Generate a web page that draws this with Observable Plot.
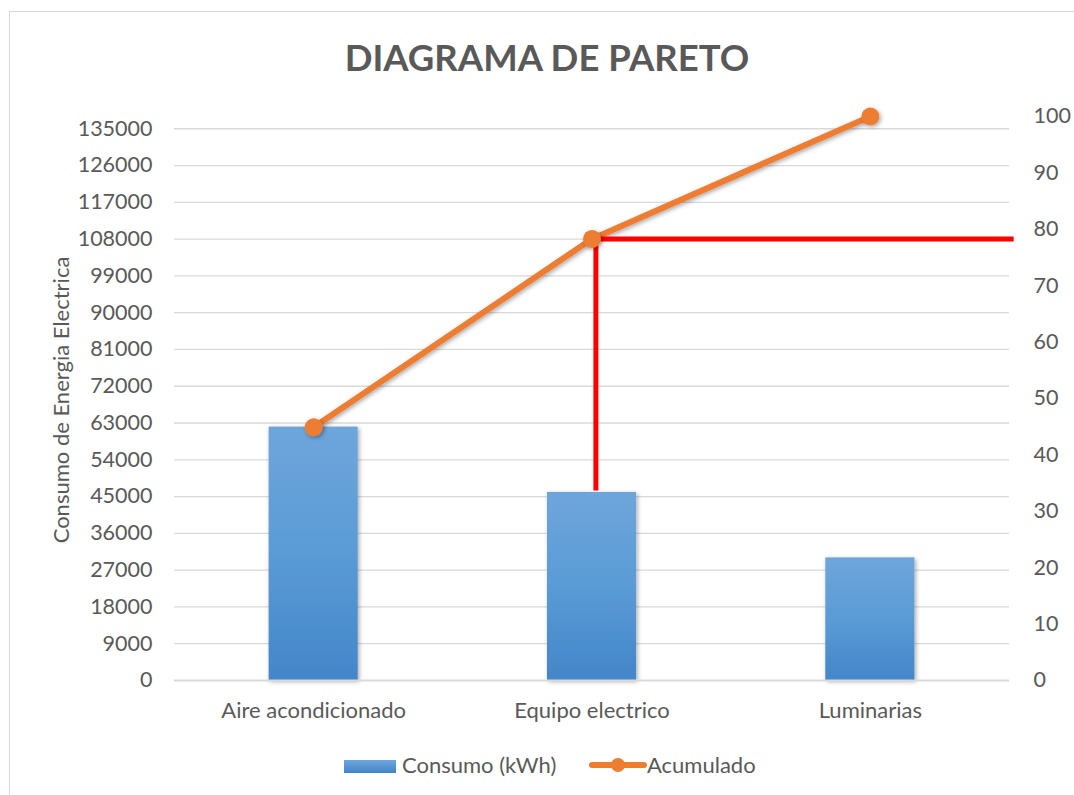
<!DOCTYPE html>
<html>
<head>
<meta charset="utf-8">
<script src="https://cdn.jsdelivr.net/npm/d3@7"></script>
<script src="https://cdn.jsdelivr.net/npm/@observablehq/plot@0.6"></script>
<style>
  html, body { margin: 0; padding: 0; background: #fff; }
  body { width: 1074px; height: 795px; position: relative; overflow: hidden; font-family: Lato, "Open Sans", sans-serif; color: #595959; }
  #frame { position: absolute; left: 9px; top: 11px; width: 1080px; height: 800px; border: 1.5px solid #D9D9D9; box-sizing: border-box; }
  #title { position: absolute; left: 0; width: 1094px; top: 35px; text-align: center; font-weight: 700; font-size: 36.5px; color: #595959; }
  #chart { position: absolute; left: 0; top: 0; }
  #ylabel { position: absolute; left: 60px; top: 400px; transform: translate(-50%, -50%) rotate(-90deg); white-space: nowrap; font-size: 22px; color: #595959; }
  .leg { position: absolute; top: 752px; font-size: 22px; color: #595959; white-space: nowrap; line-height: 26px; }
</style>
</head>
<body>
<div id="frame"></div>
<div id="chart"></div>
<div id="title">DIAGRAMA DE PARETO</div>
<div id="ylabel">Consumo de Energia Electrica</div>
<div class="leg" style="left:344px;"><span style="display:inline-block;width:52px;height:13px;vertical-align:0px;background:linear-gradient(#6EA6DB,#4285C8);margin-right:6px;"></span>Consumo (kWh)</div>
<div class="leg" style="left:589px;"><svg width="58" height="18" style="vertical-align:-1px;"><line x1="3" y1="9" x2="55" y2="9" stroke="#ED7D31" stroke-width="6" stroke-linecap="round"/><circle cx="29" cy="9" r="7" fill="#ED7D31"/></svg>Acumulado</div>
<script>
const categories = ["Aire acondicionado", "Equipo electrico", "Luminarias"];
const consumo = [62000, 46000, 30000];
const acumulado = [44.9, 78.3, 100];
const leftTicks = [0, 9000, 18000, 27000, 36000, 45000, 54000, 63000, 72000, 81000, 90000, 99000, 108000, 117000, 126000, 135000];
const rightTicks = [0, 10, 20, 30, 40, 50, 60, 70, 80, 90, 100];

const total = d3.sum(consumo);           // left-axis maximum (= 100 %)
const k = total / 100;                   // % -> kWh on the shared y scale
const half = 0.16;                       // half bar width in category units
const idx = categories.map((_, i) => i);

const bars = idx.map(i => ({i, v: consumo[i]}));
const cum = idx.map(i => ({i, p: acumulado[i]}));
// pareto marker: from top of 2nd bar up to its cumulative value, then right to the edge
const redPath = [
  {x: 1 + 0.014, y: consumo[1] + 500},
  {x: 1 + 0.014, y: acumulado[1] * k},
  {x: categories.length - 0.5 + 0.015, y: acumulado[1] * k}
];

const defs = () => {
  const g = d3.create("svg:defs");
  const grad = g.append("linearGradient").attr("id", "barGrad").attr("x1", 0).attr("y1", 0).attr("x2", 0).attr("y2", 1);
  grad.append("stop").attr("offset", "0%").attr("stop-color", "#6EA6DB");
  grad.append("stop").attr("offset", "50%").attr("stop-color", "#5A9BD6");
  grad.append("stop").attr("offset", "100%").attr("stop-color", "#4386C9");
  const f = g.append("filter").attr("id", "shadow").attr("x", "-20%").attr("y", "-20%").attr("width", "140%").attr("height", "140%");
  f.append("feDropShadow").attr("dx", 1.5).attr("dy", 1.5).attr("stdDeviation", 2).attr("flood-color", "#000").attr("flood-opacity", 0.35);
  return g.node();
};

const chart = Plot.plot({
  width: 1074,
  height: 795,
  marginLeft: 174,
  marginRight: 65,
  marginTop: 116,
  marginBottom: 115,
  style: {fontFamily: "Lato, 'Open Sans', sans-serif", fontSize: "21.5px", color: "#595959", background: "transparent", overflow: "visible"},
  x: {type: "linear", domain: [-0.5, categories.length - 0.5]},
  y: {domain: [0, total]},
  marks: [
    defs,
    Plot.ruleY(leftTicks.slice(1), {stroke: "#D9D9D9", strokeWidth: 1.3, strokeOpacity: 1}),
    Plot.rectY(bars, {x1: d => d.i - half, x2: d => d.i + half, y1: 0, y2: "v", fill: "url(#barGrad)", ariaDescription: "shadowed"}),
    Plot.ruleY([0], {stroke: "#D9D9D9", strokeWidth: 2}),
    Plot.axisX({ticks: idx, tickFormat: i => categories[i], tickSize: 0, tickPadding: 22, fontSize: 22, fill: "#595959", label: null}),
    Plot.axisY({ticks: leftTicks, tickFormat: d => String(d), tickSize: 0, tickPadding: 22, fontSize: 21.5, fill: "#595959", label: null}),
    Plot.axisY({anchor: "right", ticks: rightTicks.map(v => v * k), tickFormat: v => String(Math.round(v / k)), tickSize: 0, tickPadding: 24, fontSize: 21.5, fill: "#595959", label: null}),
    Plot.line(cum, {x: "i", y: d => d.p * k, stroke: "#ED7D31", strokeWidth: 6, strokeLinecap: "round", ariaDescription: "shadowed"}),
    Plot.line(redPath, {x: "x", y: "y", stroke: "#FF0000", strokeWidth: 5, strokeLinejoin: "miter", strokeLinecap: "butt"}),
    Plot.dot(cum, {x: "i", y: d => d.p * k, r: 9, fill: "#ED7D31", stroke: "none", ariaDescription: "shadowed"})
  ]
});
d3.select(chart).selectAll("g[aria-description='shadowed']").attr("filter", "url(#shadow)");
document.getElementById("chart").appendChild(chart);
</script>
</body>
</html>
